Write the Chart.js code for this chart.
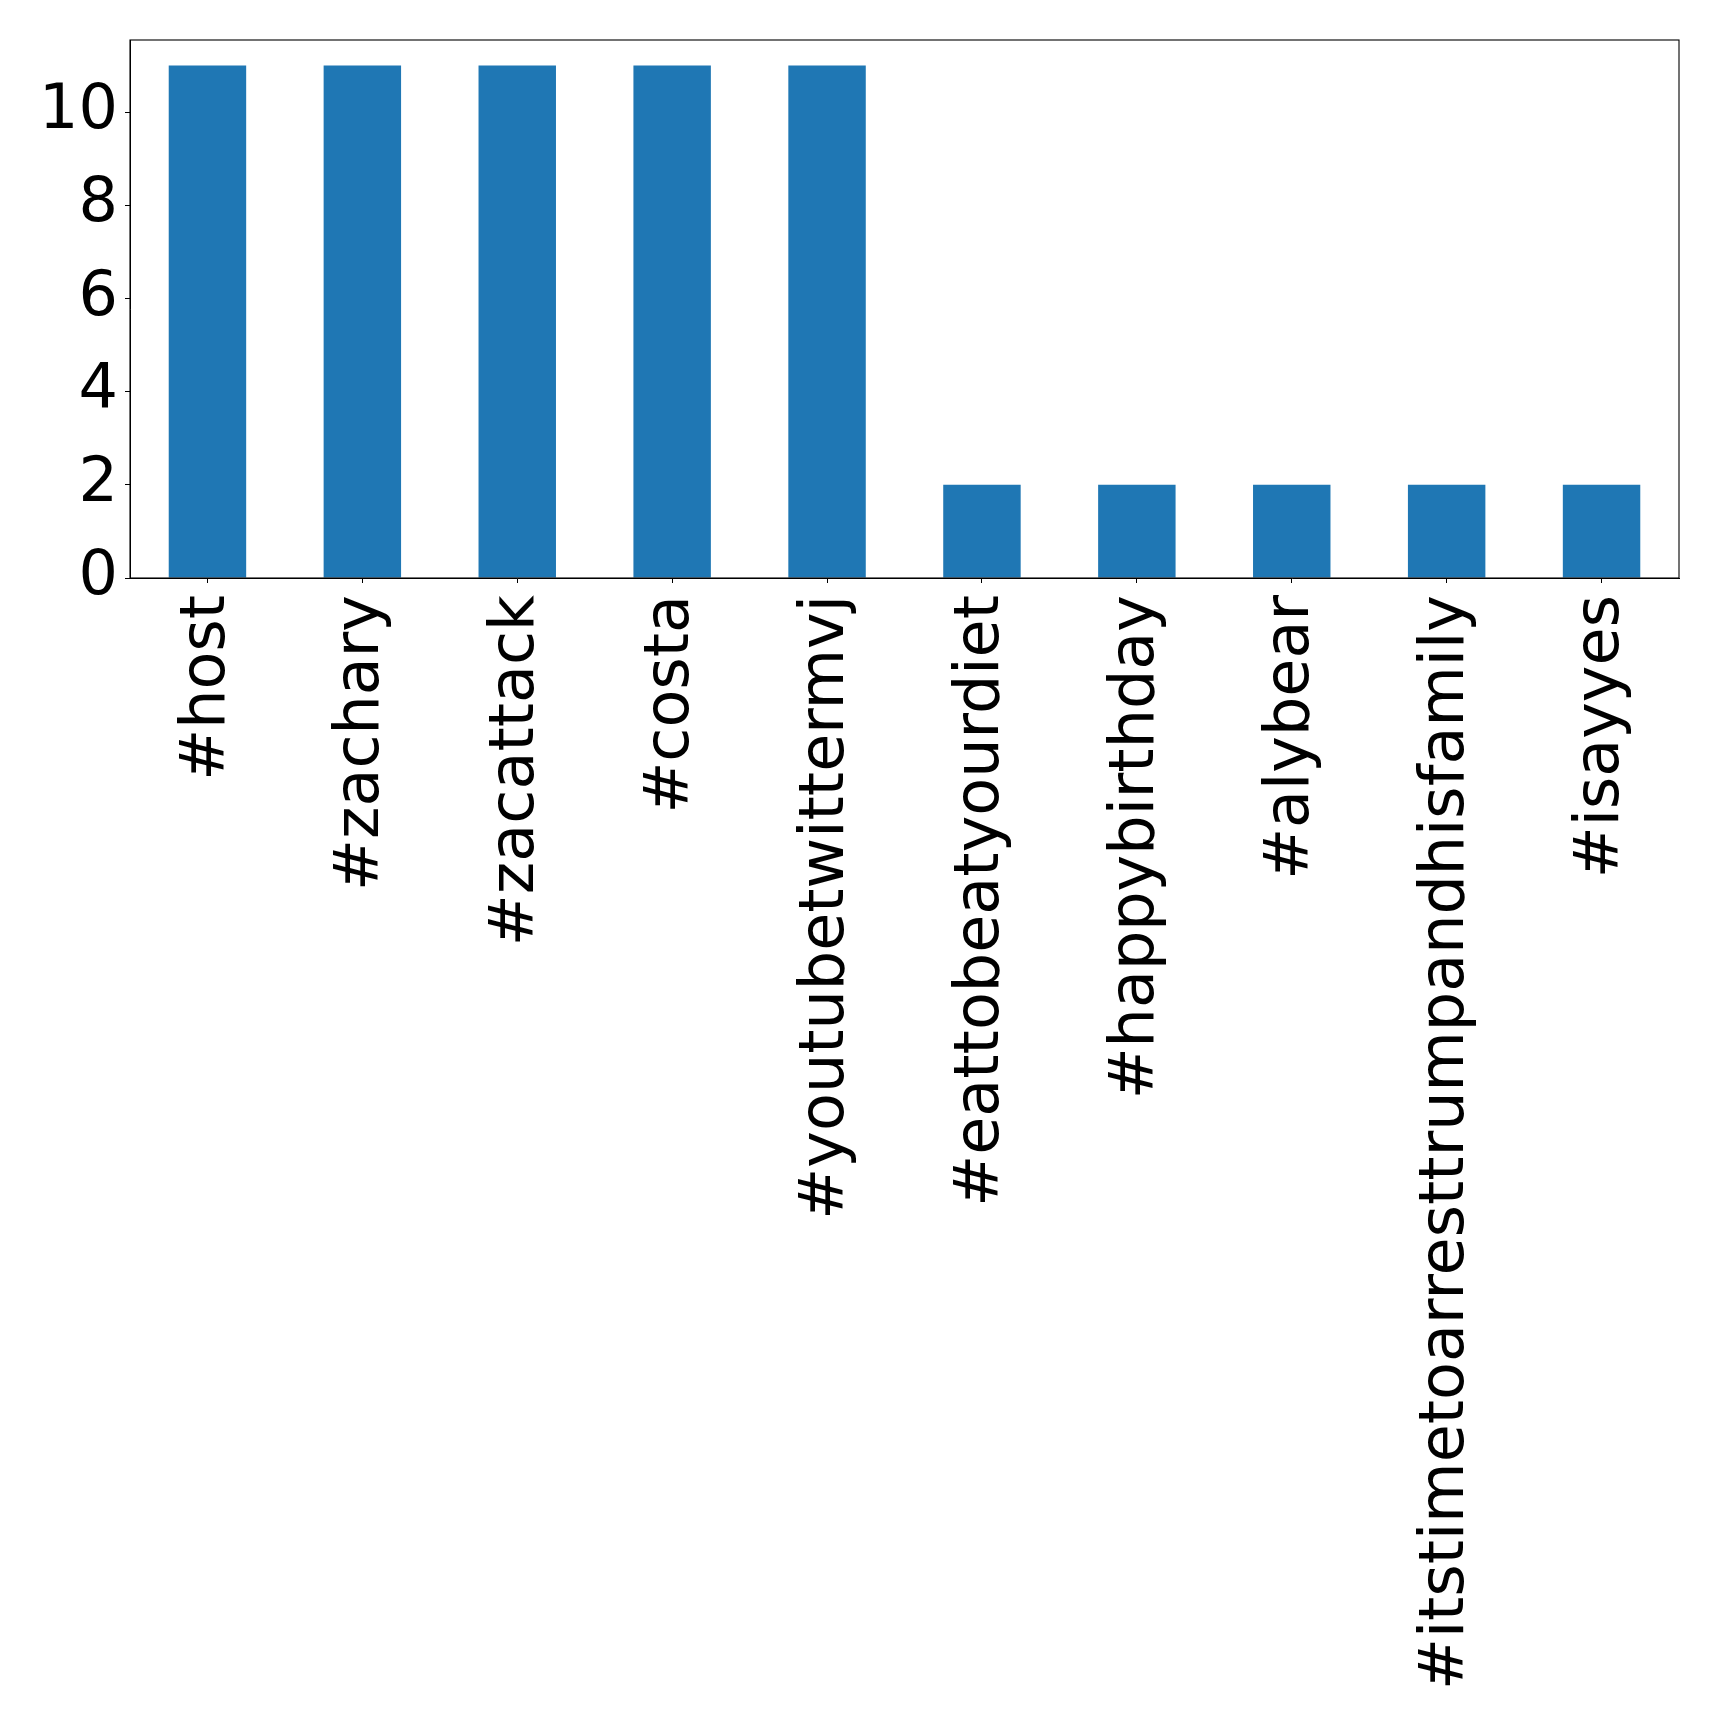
<!DOCTYPE html>
<html>
<head>
<meta charset="utf-8">
<script src="https://cdn.jsdelivr.net/npm/chart.js@4/dist/chart.umd.min.js"></script>
<style>
  html, body { margin: 0; padding: 0; background: #fff; }
  #wrap { width: 1719px; height: 1731px; }
</style>
</head>
<body>
<div id="wrap"><canvas id="hashtags" width="1719" height="1731"></canvas></div>
<script>
// hashtags e contagens
const hashtags = ['#host', '#zachary', '#zacattack', '#costa', '#youtubetwittermvj',
  '#eattobeatyourdiet', '#happybirthday', '#alybear', '#itstimetoarresttrumpandhisfamily', '#isayyes'];
const counts = [11, 11, 11, 11, 11, 2, 2, 2, 2, 2];
const yTicks = [0, 2, 4, 6, 8, 10];
const yMax = 11.55;

const tickFont = { family: 'DejaVu Sans', size: 62 };

// moldura completa (matplotlib desenha os 4 lados)
const frameBox = {
  id: 'frameBox',
  afterDraw(chart) {
    const a = chart.chartArea, ctx = chart.ctx;
    ctx.save();
    ctx.strokeStyle = '#000';
    ctx.lineWidth = 1.1;
    ctx.strokeRect(a.left, a.top, a.right - a.left, a.bottom - a.top);
    ctx.restore();
  }
};

new Chart(document.getElementById('hashtags'), {
  type: 'bar',
  data: {
    labels: hashtags,
    datasets: [{ data: counts, backgroundColor: '#1f77b4', borderWidth: 0,
      categoryPercentage: 1, barPercentage: 0.5 }]
  },
  options: {
    responsive: false,
    animation: false,
    layout: { padding: { top: 40, right: 40, left: 0, bottom: 0 } },
    plugins: { legend: { display: false }, tooltip: { enabled: false } },
    scales: {
      x: {
        grid: { drawOnChartArea: false, offset: false, tickLength: 5, color: '#000' },
        border: { color: '#000', width: 1 },
        ticks: { font: tickFont, color: '#000', minRotation: 90, maxRotation: 90, autoSkip: false, padding: 12 },
        afterFit(s) { s.height = 1731 - 578; s.paddingLeft = 0; s.paddingRight = 0; }
      },
      y: {
        min: 0, max: yMax,
        grid: { drawOnChartArea: false, tickLength: 5, color: '#000' },
        border: { color: '#000', width: 1 },
        ticks: { font: tickFont, color: '#000', padding: 7 },
        afterBuildTicks(s) { s.ticks = yTicks.map(v => ({ value: v })); },
        afterFit(s) { s.width = 130; s.paddingTop = 0; s.paddingBottom = 0; }
      }
    }
  },
  plugins: [frameBox]
});
</script>
</body>
</html>
